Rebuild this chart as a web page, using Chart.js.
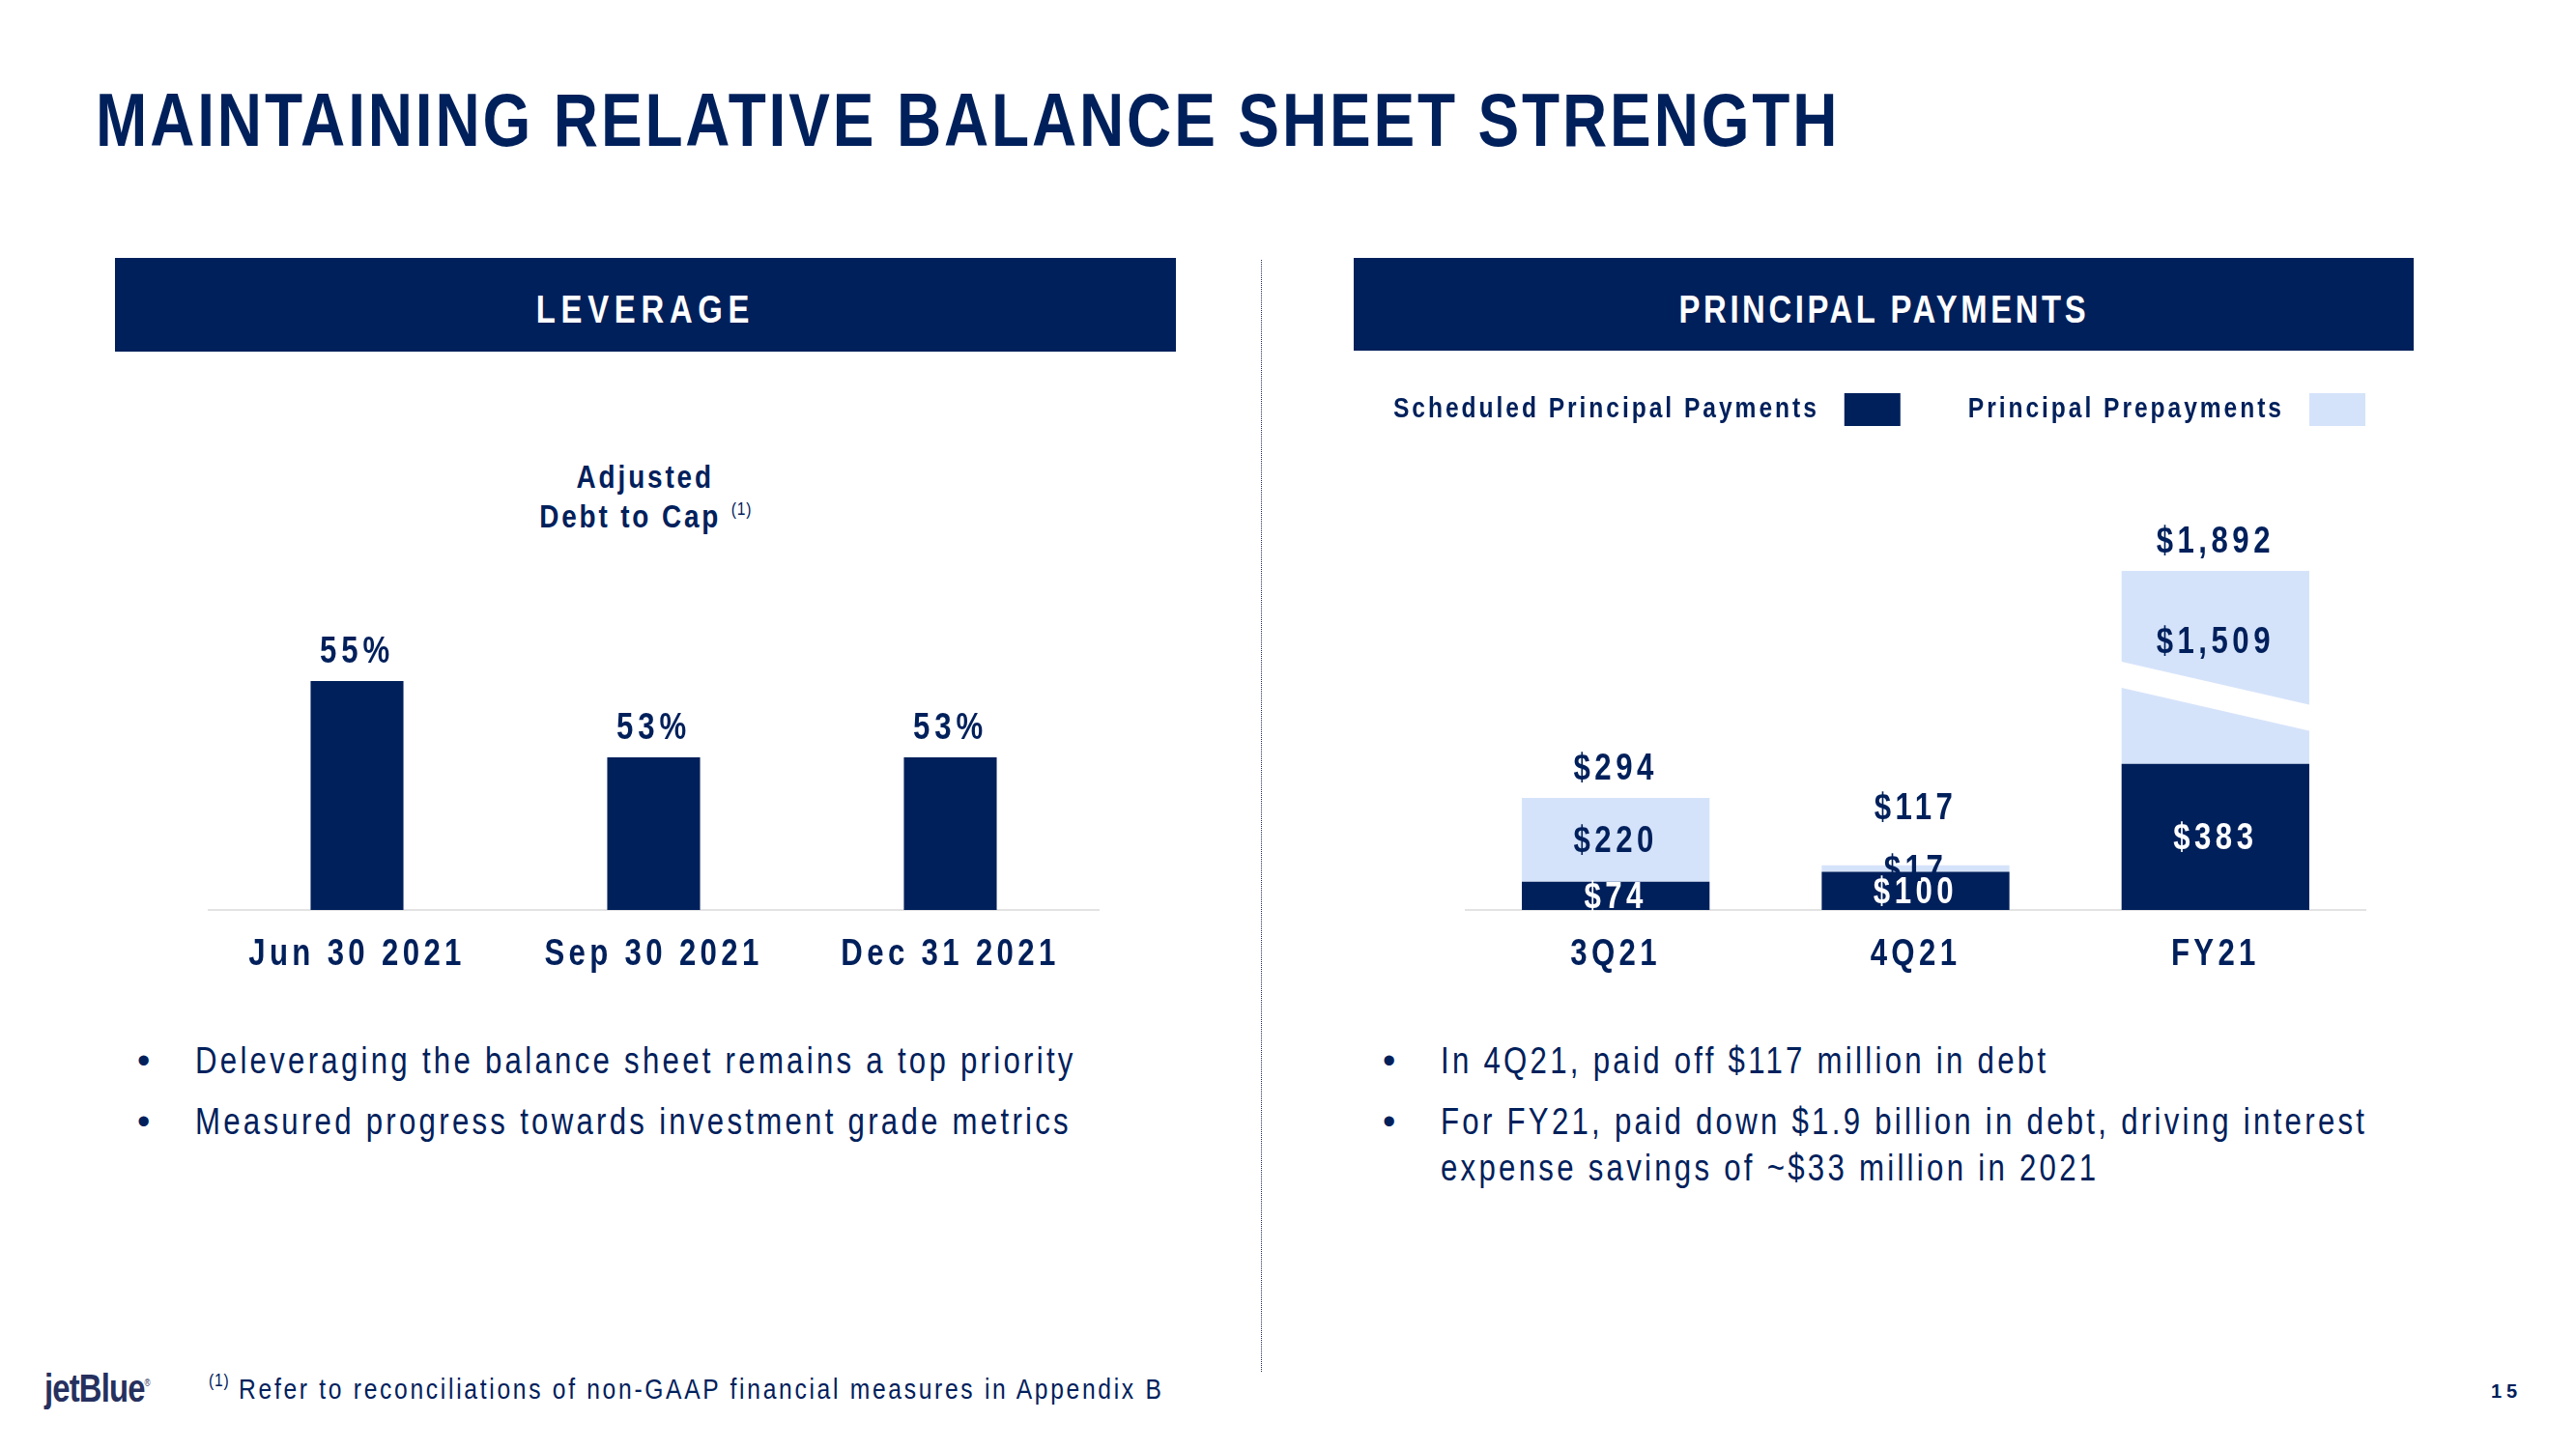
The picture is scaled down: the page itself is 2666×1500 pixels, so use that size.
<!DOCTYPE html>
<html>
<head>
<meta charset="utf-8">
<script src="https://cdn.jsdelivr.net/npm/chart.js@4.4.1/dist/chart.umd.min.js"></script>
<style>
  body { margin: 0; background: #fff; }
  #page {
    position: relative; width: 2666px; height: 1500px; overflow: hidden;
    font-family: 'Liberation Sans', Arial, sans-serif;
    color: #00205B;
  }
  /* the slide font is a narrow face; squeeze Liberation Sans to match */
  .n { display: inline-block; transform: scaleX(0.82); transform-origin: left center; white-space: nowrap; }
  .c .n { transform-origin: center center; }
  h1 {
    position: absolute; left: 99px; top: 85px; margin: 0;
    font-size: 78px; line-height: 78px; font-weight: bold;
    letter-spacing: 3.5px; white-space: nowrap;
  }
  .banner {
    position: absolute; top: 267px; height: 97px; box-sizing: border-box;
    padding-top: 10px; background: #00205B; color: #fff;
    font-weight: bold; font-size: 40px;
    display: flex; align-items: center; justify-content: center;
  }
  .divider {
    position: absolute; left: 1305px; top: 269px; height: 1151px;
    border-left: 1.5px dotted #1f2b55;
  }
  .subtitle {
    position: absolute; left: 418px; top: 473px; width: 500px;
    text-align: center; font-weight: bold; font-size: 34px;
    line-height: 41px; letter-spacing: 3.5px;
  }
  sup {
    font-weight: normal; font-size: 19px; letter-spacing: 1px;
    vertical-align: baseline; position: relative; top: -0.7em; line-height: 0;
  }
  canvas { position: absolute; }
  .bullet {
    position: absolute; font-size: 38px; line-height: 48px;
    letter-spacing: 4px; white-space: nowrap;
  }
  .dot { position: absolute; left: -60px; top: 0; font-size: 38px; line-height: 48px; }
  .logo {
    position: absolute; left: 46px; top: 1415px; font-size: 40px; line-height: 44px;
    font-weight: bold; letter-spacing: -1px; color: #26305e;
  }
  .logo sup { font-size: 10px; top: -1.6em; }
  .note {
    position: absolute; left: 216px; top: 1420px; font-size: 30px;
    line-height: 36px; letter-spacing: 3.3px; white-space: nowrap;
  }
  .pagenum {
    position: absolute; left: 2578px; top: 1428px; font-size: 20px;
    line-height: 24px; font-weight: bold; letter-spacing: 5px;
  }
</style>
</head>
<body>
<div id="page">
  <h1><span class="n">MAINTAINING RELATIVE BALANCE SHEET STRENGTH</span></h1>

  <div class="banner c" style="left:119px;width:1098px;letter-spacing:7px;"><span class="n">LEVERAGE</span></div>
  <div class="banner c" style="left:1401px;width:1097px;height:96px;letter-spacing:4.4px;"><span class="n">PRINCIPAL PAYMENTS</span></div>
  <div class="divider"></div>

  <div class="subtitle c"><span class="n">Adjusted</span><br><span class="n">Debt to Cap <sup>(1)</sup></span></div>

  <canvas id="leverageChart" width="1098" height="640" style="left:119px;top:380px;"></canvas>
  <canvas id="paymentsChart" width="1097" height="640" style="left:1401px;top:380px;"></canvas>

  <div class="bullet" style="left:202px;top:1074px;"><span class="dot">&bull;</span><span class="n">Deleveraging the balance sheet remains a top priority</span></div>
  <div class="bullet" style="left:202px;top:1137px;"><span class="dot">&bull;</span><span class="n">Measured progress towards investment grade metrics</span></div>
  <div class="bullet" style="left:1491px;top:1074px;"><span class="dot">&bull;</span><span class="n">In 4Q21, paid off $117 million in debt</span></div>
  <div class="bullet" style="left:1491px;top:1137px;"><span class="dot">&bull;</span><span class="n">For FY21, paid down $1.9 billion in debt, driving interest</span><br><span class="n">expense savings of ~$33 million in 2021</span></div>

  <div class="logo"><span class="n">jetBlue<sup>&reg;</sup></span></div>
  <div class="note"><span class="n"><sup>(1)</sup> Refer to reconciliations of non-GAAP financial measures in Appendix B</span></div>
  <div class="pagenum">15</div>
</div>

<script>
// -----------------------------
// Data
// -----------------------------
const leverageDates = ["Jun 30 2021", "Sep 30 2021", "Dec 31 2021"];
const debtToCap = [55, 53, 53];

const periods = ["3Q21", "4Q21", "FY21"];
const scheduledPayments = [74, 100, 383];
const prepayments = [220, 17, 1509];

const NAVY = "#00205B";
const LIGHT = "#D5E3FA";
const FONT = "'Liberation Sans', Arial, sans-serif";
const NARROW = 0.82;

Chart.defaults.font.family = FONT;
Chart.defaults.color = NAVY;

// squeezed text, since no narrow font is around
function narrowText(ctx, text, x, y, spacing) {
  ctx.save();
  ctx.translate(x, y);
  ctx.scale(NARROW, 1);
  ctx.letterSpacing = spacing + "px";
  ctx.fillText(text, 0, 0);
  ctx.restore();
}

// -----------------------------
// Broken y scale (FY21 bar is cut)
// -----------------------------
const breakAt = 560;
const squeeze = 0.247;
const squash = v => (v <= breakAt ? v : breakAt + (v - breakAt) * squeeze);

class BrokenScale extends Chart.LinearScale {
  getPixelForValue(value) {
    return super.getPixelForValue(value == null ? value : squash(value));
  }
  getValueForPixel(pixel) {
    const s = super.getValueForPixel(pixel);
    return s <= breakAt ? s : breakAt + (s - breakAt) / squeeze;
  }
}
BrokenScale.id = "broken";
BrokenScale.defaults = Chart.LinearScale.defaults;
Chart.register(BrokenScale);

const xAxis = {
  grid: { display: false, drawTicks: false },
  border: { color: "#E3E3E3", width: 2 },
  ticks: { display: false },
  afterFit(scale) { scale.height = 60; }
};

// category labels under the axis, drawn narrow
const categoryLabels = {
  id: "categoryLabels",
  afterDraw(chart) {
    const ctx = chart.ctx;
    const x = chart.scales.x;
    ctx.save();
    ctx.font = `bold 38px ${FONT}`;
    ctx.fillStyle = NAVY;
    ctx.textAlign = "center";
    ctx.textBaseline = "middle";
    chart.data.labels.forEach((lab, i) => {
      narrowText(ctx, lab, x.getPixelForTick(i), chart.chartArea.bottom + 47, 5.3);
    });
    ctx.restore();
  }
};

// -----------------------------
// Leverage chart
// -----------------------------
const percentLabels = {
  id: "percentLabels",
  afterDatasetsDraw(chart) {
    const ctx = chart.ctx;
    const meta = chart.getDatasetMeta(0);
    ctx.save();
    ctx.font = `bold 38px ${FONT}`;
    ctx.fillStyle = NAVY;
    ctx.textAlign = "center";
    ctx.textBaseline = "middle";
    meta.data.forEach((bar, i) => {
      narrowText(ctx, debtToCap[i] + "%", bar.x, bar.y - 30, 5.9);
    });
    ctx.restore();
  }
};

new Chart(document.getElementById("leverageChart"), {
  type: "bar",
  data: {
    labels: leverageDates,
    datasets: [{
      label: "Adjusted Debt to Cap",
      data: debtToCap,
      backgroundColor: NAVY,
      barPercentage: 0.313,
      categoryPercentage: 1
    }]
  },
  options: {
    responsive: false,
    animation: false,
    layout: { padding: { top: 100, left: 97, right: 80, bottom: 18 } },
    plugins: { legend: { display: false }, tooltip: { enabled: false } },
    scales: {
      x: xAxis,
      y: { min: 49, max: 60.7, display: false }
    }
  },
  plugins: [percentLabels, categoryLabels]
});

// -----------------------------
// Principal payments chart
// -----------------------------
const money = v => "$" + v.toLocaleString("en-US");

const paymentLabels = {
  id: "paymentLabels",
  afterDatasetsDraw(chart) {
    const ctx = chart.ctx;
    const y = chart.scales.y;
    const low = chart.getDatasetMeta(0).data;
    const high = chart.getDatasetMeta(1).data;
    const breakPx = y.getPixelForValue(breakAt);

    ctx.save();
    // break marks on bars that run past the cut
    ctx.fillStyle = "#fff";
    periods.forEach((p, i) => {
      const total = scheduledPayments[i] + prepayments[i];
      if (total <= breakAt) return;
      const b = high[i];
      const x0 = b.x - b.width / 2 - 1, x1 = b.x + b.width / 2 + 1;
      ctx.beginPath();
      ctx.moveTo(x0, breakPx - 36);
      ctx.lineTo(x1, breakPx + 9);
      ctx.lineTo(x1, breakPx + 36);
      ctx.lineTo(x0, breakPx - 9);
      ctx.closePath();
      ctx.fill();
    });

    ctx.font = `bold 38px ${FONT}`;
    ctx.textAlign = "center";
    ctx.textBaseline = "middle";
    periods.forEach((p, i) => {
      const total = scheduledPayments[i] + prepayments[i];
      const d = low[i], l = high[i];
      ctx.fillStyle = "#fff";
      narrowText(ctx, money(scheduledPayments[i]), d.x, (d.y + d.base) / 2 + 2, 5.5);
      const ly = total > breakAt ? (l.y + breakPx) / 2 + 10 : (l.y + l.base) / 2 + 2;
      ctx.fillStyle = NAVY;
      narrowText(ctx, money(prepayments[i]), l.x, ly, 5.5);
      narrowText(ctx, money(total), l.x, Math.min(l.y - 29, ly - 64), 5.5);
    });

    // legend: text then swatch, right aligned to the plot
    ctx.font = `bold 30px ${FONT}`;
    ctx.textAlign = "right";
    const cy = chart.chartArea.top - 56;
    let x = chart.chartArea.right;
    for (let i = chart.data.datasets.length - 1; i >= 0; i--) {
      const ds = chart.data.datasets[i];
      ctx.fillStyle = ds.backgroundColor;
      ctx.fillRect(x - 58, cy - 17, 58, 34);
      x -= 58 + 26;
      ctx.fillStyle = NAVY;
      narrowText(ctx, ds.label, x, cy, 3.6);
      ctx.letterSpacing = "3.6px";
      x -= ctx.measureText(ds.label).width * NARROW + 70;
      ctx.letterSpacing = "0px";
    }
    ctx.restore();
  }
};

new Chart(document.getElementById("paymentsChart"), {
  type: "bar",
  data: {
    labels: periods,
    datasets: [
      {
        label: "Scheduled Principal Payments",
        data: scheduledPayments,
        backgroundColor: NAVY,
        barPercentage: 0.626,
        categoryPercentage: 1
      },
      {
        label: "Principal Prepayments",
        data: prepayments,
        backgroundColor: LIGHT,
        barPercentage: 0.626,
        categoryPercentage: 1
      }
    ]
  },
  options: {
    responsive: false,
    animation: false,
    layout: { padding: { top: 100, left: 116, right: 50, bottom: 18 } },
    plugins: { legend: { display: false }, tooltip: { enabled: false } },
    scales: {
      x: Object.assign({ stacked: true }, xAxis),
      y: { type: "broken", stacked: true, min: 0, max: 1170, display: false }
    }
  },
  plugins: [paymentLabels, categoryLabels]
});
</script>
</body>
</html>
